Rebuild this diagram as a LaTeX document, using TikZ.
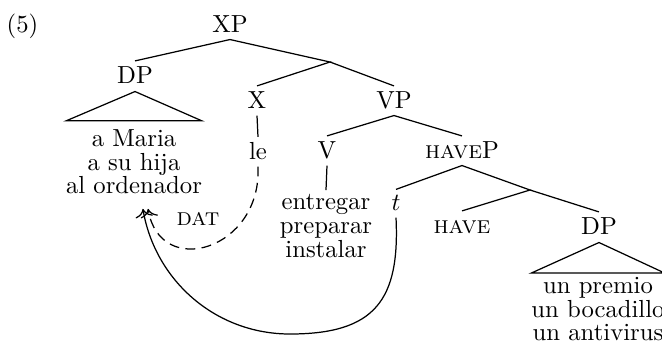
\documentclass[tikz,border=0pt]{standalone}
\usepackage{fontspec}
\usetikzlibrary{arrows.meta}
\tikzset{
  lab/.style={inner xsep=1pt, inner ysep=0pt, text height=6.9pt, text depth=0pt, anchor=base},
  leaves/.style={inner sep=0pt, anchor=north, align=center, font=\fontsize{10pt}{9.6pt}\selectfont},
  movearrow/.style={-{To[scale=1.25]}},
  datarrow/.style={-{To[scale=1.25]}, dash pattern=on 4pt off 2.6pt},
}
\begin{document}
\begin{tikzpicture}[x=0.405pt,y=-0.405pt,line width=0.5pt]
\clip (0,0) rectangle (662,349);
% labels
\node[lab] (ex) at (22.5,32) {(5)};
\node[lab] (XP) at (230,32) {XP};
\node[lab] (DPa) at (135,83) {DP};
\coordinate (Xbar) at (330,62);
\node[lab] (X) at (257,108) {X};
\node[lab] (VP) at (394,108) {VP};
\node[lab] (le) at (258,159) {le};
\node[lab] (V) at (327,158) {V};
\node[lab] (hP) at (462,158) {\textsc{have}P};
\node[lab] (t) at (396,210) {$t$};
\coordinate (hbar) at (530,190);
\node[lab] (have) at (462,233) {\textsc{have}};
\node[lab] (DPb) at (599,234) {DP};
\node[leaves] (la) at (134,129) {a Maria\\a su hija\\al ordenador};
\node[leaves] (lv) at (326,194) {entregar\\preparar\\instalar};
\node[leaves] (lb) at (598,276.5) {un premio\\un bocadillo\\un antivirus};
\node[lab] (dat) at (198,225) {\textsc{dat}};
% branches
\draw ([yshift=-2.8pt]XP.south) -- ([yshift=1.8pt]DPa.north);
\draw ([yshift=-2.8pt]XP.south) -- (Xbar) -- ([yshift=1.8pt]X.north);
\draw (Xbar) -- ([yshift=1.8pt]VP.north);
\draw ([yshift=-2.8pt]X.south) -- ([yshift=1.8pt]le.north);
\draw ([yshift=-2.8pt]VP.south) -- ([yshift=1.8pt]V.north);
\draw ([yshift=-2.8pt]VP.south) -- ([yshift=1.8pt]hP.north);
\draw ([yshift=-2.8pt]V.south) -- ([yshift=1.6pt]lv.north);
\draw ([yshift=-2.8pt]hP.south) -- ([yshift=1.2pt]t.north);
\draw ([yshift=-2.8pt]hP.south) -- (hbar) -- ([yshift=1.8pt]have.north);
\draw (hbar) -- ([yshift=1.8pt]DPb.north);
% triangles
\draw ([yshift=-3.2pt]DPa.south) -- ([xshift=-27.5pt,yshift=3.3pt]la.north) -- ([xshift=27.5pt,yshift=3.3pt]la.north) -- cycle;
\draw ([yshift=-3.2pt]DPb.south) -- ([xshift=-27pt,yshift=1.4pt]lb.north) -- ([xshift=27pt,yshift=1.4pt]lb.north) -- cycle;
% arrows
\coordinate (tipA) at ([xshift=5.7pt,yshift=-5.7pt]la.south);
\coordinate (tipB) at ([xshift=3.6pt,yshift=-5.7pt]la.south);
\draw[datarrow] ([yshift=-2.8pt]le.south) .. controls (262,250) and (160,280) .. (tipA);
\draw[movearrow] ([yshift=-2.8pt]t.south) .. controls (400,300) and (375,334) .. (290,334) .. controls (215,334) and (155,280) .. (tipB);
\end{tikzpicture}
\end{document}
